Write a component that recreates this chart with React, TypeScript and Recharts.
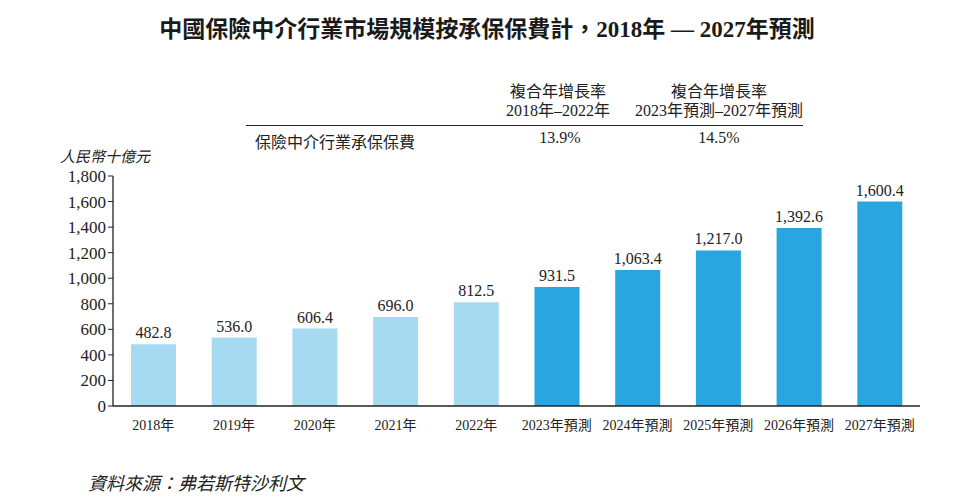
import { Bar, BarChart, Cell, LabelList, XAxis, YAxis } from "recharts";

const years = [
  "2018年",
  "2019年",
  "2020年",
  "2021年",
  "2022年",
  "2023年預測",
  "2024年預測",
  "2025年預測",
  "2026年預測",
  "2027年預測",
];
const premiums = [482.8, 536.0, 606.4, 696.0, 812.5, 931.5, 1063.4, 1217.0, 1392.6, 1600.4];
const forecast = [false, false, false, false, false, true, true, true, true, true];
const yTicks = [0, 200, 400, 600, 800, 1000, 1200, 1400, 1600, 1800];
const cagrHeads = [
  ["複合年增長率", "2018年–2022年"],
  ["複合年增長率", "2023年預測–2027年預測"],
];
const cagrValues = ["13.9%", "14.5%"];

const data = years.map((year, i) => ({ year, value: premiums[i], forecast: forecast[i] }));

const serif = '"Liberation Serif", "Noto Sans CJK TC", serif';
const light = "#a6daf0";
const dark = "#29a6df";
const fmt = (v: number) => v.toLocaleString("en-US", { minimumFractionDigits: 1, maximumFractionDigits: 1 });

export default function App() {
  return (
    <div style={{ position: "absolute", left: 0, top: 0, width: 954, height: 500, background: "#fff", fontFamily: serif, color: "#222" }}>
      <div style={{ position: "absolute", left: 10, width: 954, top: 10, textAlign: "center", fontSize: 23, fontWeight: "bold", color: "#1a1a1a" }}>
        中國保險中介行業市場規模按承保保費計，2018年 — 2027年預測
      </div>
      {cagrHeads.map((h, i) => (
        <div key={i} style={{ position: "absolute", left: [478, 614][i], width: [160, 210][i], top: 82, textAlign: "center", fontSize: 16, lineHeight: "19px" }}>
          <div>{h[0]}</div>
          <div>{h[1]}</div>
        </div>
      ))}
      <div style={{ position: "absolute", left: 246, top: 125, width: 557, height: 0, borderTop: "1.3px solid #222" }} />
      <div style={{ position: "absolute", left: 255, top: 129, fontSize: 16 }}>保險中介行業承保保費</div>
      {cagrValues.map((v, i) => (
        <div key={i} style={{ position: "absolute", left: [500, 659][i], width: 120, top: 129, textAlign: "center", fontSize: 16 }}>
          {v}
        </div>
      ))}
      <div style={{ position: "absolute", left: 60, top: 145, fontSize: 15, fontStyle: "italic" }}>人民幣十億元</div>
      <div style={{ position: "absolute", left: 88, top: 469, fontSize: 18, fontStyle: "italic" }}>資料來源：弗若斯特沙利文</div>
      <BarChart
        width={954}
        height={500}
        data={data}
        margin={{ top: 176, right: 34, bottom: 64, left: 53 }}
        barSize={45}
        style={{ position: "absolute", left: 0, top: 0 }}
      >
        <XAxis
          dataKey="year"
          axisLine={{ stroke: "#222", strokeWidth: 1.3 }}
          tickLine={false}
          tick={{ fill: "#222", fontSize: 14, fontFamily: serif }}
          tickMargin={8}
          height={30}
          interval={0}
        />
        <YAxis
          width={60}
          domain={[0, 1800]}
          ticks={yTicks}
          axisLine={{ stroke: "#222", strokeWidth: 1.3 }}
          tickLine={{ stroke: "#222" }}
          tickSize={5}
          tick={{ fill: "#222", fontSize: 17, fontFamily: serif }}
          tickFormatter={(v: number) => v.toLocaleString("en-US")}
        />
        <Bar dataKey="value" isAnimationActive={false}>
          {data.map((d, i) => (
            <Cell key={i} fill={d.forecast ? dark : light} />
          ))}
          <LabelList
            dataKey="value"
            position="top"
            offset={6}
            formatter={(v: number) => fmt(v)}
            style={{ fill: "#222", fontSize: 16, fontFamily: serif }}
          />
        </Bar>
      </BarChart>
    </div>
  );
}
